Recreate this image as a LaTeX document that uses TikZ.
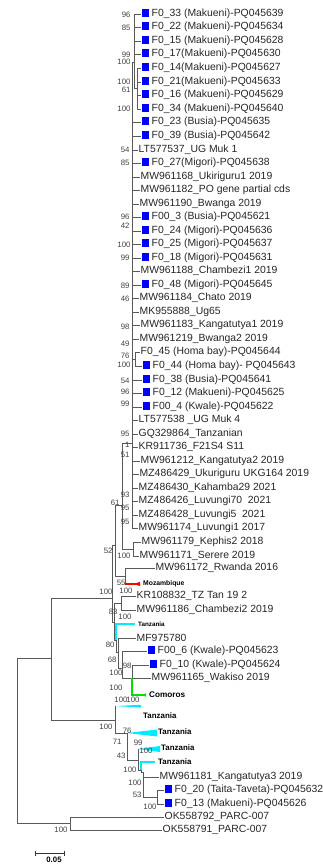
\documentclass[tikz,border=0pt]{standalone}
\usepackage{fontspec}
\setmainfont{Liberation Sans}
\usepackage{xcolor}
\definecolor{sqblue}{RGB}{0,0,255}
\definecolor{tzcyan}{RGB}{0,235,255}
\definecolor{cmgreen}{RGB}{0,225,0}
\definecolor{mzred}{RGB}{255,0,0}
\newcommand{\bsq}{\textcolor{sqblue}{\rule[-0.6pt]{7.5pt}{8pt}}\hspace{2.5pt}}

\begin{document}
\begin{tikzpicture}[x=1pt, y=-1pt,
  br/.style={draw=black!65, line width=0.9pt},
  leaf/.style={anchor=west, inner sep=0.5pt, text=black!85, font=\fontsize{10.4}{12}\selectfont},
  bs/.style={anchor=east, inner sep=0.3pt, text=black!75, font=\fontsize{7.8}{9}\selectfont},
  clade/.style={anchor=west, inner xsep=3pt, inner ysep=0.5pt, font=\bfseries\fontsize{#1}{10}\selectfont},
  clade/.default=7.9,
  cyb/.style={draw=tzcyan, line width=1.4pt},
  cyw/.style={fill=tzcyan},
  mzb/.style={draw=mzred, line width=1.2pt},
  grb/.style={draw=cmgreen, line width=1.2pt}]
  \useasboundingbox (0,0) rectangle (322,864);
  % Internal nodes
  \coordinate (root)  at (17,740);
  \coordinate (ing)   at (51,658);
  \coordinate (og)    at (70,823);
  \coordinate (nA)    at (112,598);
  \coordinate (n52)   at (115,545);
  \coordinate (n61)   at (122,505);
  \coordinate (spine) at (132,443);
  \coordinate (mk)    at (134,62);
  \coordinate (mkb)   at (137,88);
  \coordinate (hb)    at (135,359);
  \coordinate (ks)    at (133,549);
  \coordinate (n55)   at (125,576);
  \coordinate (n83)   at (114,622);
  \coordinate (krp)   at (121,603);
  \coordinate (n80)   at (116,640);
  \coordinate (n68)   at (118,652);
  \coordinate (nkw)   at (122,668);
  \coordinate (n98)   at (132,678);
  \coordinate (nT)    at (115,720);
  \coordinate (n76)   at (127,733);
  \coordinate (n99)   at (138,760);
  \coordinate (ntz)   at (141,770);
  \coordinate (nka)   at (143,772);
  \coordinate (n53)   at (157,797);
  \foreach \a/\b in {root/ing, root/og, ing/nA, ing/nT, nA/n52, nA/n83, n52/n61, n52/n55,
                     n61/spine, n61/ks, spine/mk, mk/mkb, spine/hb, n83/krp, n83/n80,
                     n80/n68, n68/nkw, nkw/n98, nT/n76, n76/n99, n99/ntz, ntz/nka, nka/n53}
    \draw[br] (\a) |- (\b);
  % Upper clade leaves
  \foreach \y/\tx/\p/\t [count=\i] in {
    14/141/mk/{\bsq F0\_33 (Makueni)-PQ045639},
    27/141/mk/{\bsq F0\_22 (Makueni)-PQ045634},
    41/141/mk/{\bsq F0\_15 (Makueni)-PQ045628},
    54/141/mk/{\bsq F0\_17(Makueni)-PQ045630},
    68/141/mkb/{\bsq F0\_14(Makueni)-PQ045627},
    82/141/mkb/{\bsq F0\_21(Makueni)-PQ045633},
    95/141/mkb/{\bsq F0\_16 (Makueni)-PQ045629},
    109/141/mkb/{\bsq F0\_34 (Makueni)-PQ045640},
    122/141/spine/{\bsq F0\_23 (Busia)-PQ045635},
    136/141/spine/{\bsq F0\_39 (Busia)-PQ045642},
    150/138/spine/{LT577537\_UG Muk 1},
    163/141/spine/{\bsq F0\_27(Migori)-PQ045638},
    177/140/spine/{MW961168\_Ukiriguru1 2019},
    190/140/spine/{MW961182\_PO gene partial cds},
    204/139/spine/{MW961190\_Bwanga 2019},
    217/141/spine/{\bsq F00\_3 (Busia)-PQ045621},
    231/141/spine/{\bsq F0\_24 (Migori)-PQ045636},
    244/141/spine/{\bsq F0\_25 (Migori)-PQ045637},
    258/141/spine/{\bsq F0\_18 (Migori)-PQ045631},
    271/140/spine/{MW961188\_Chambezi1 2019},
    285/141/spine/{\bsq F0\_48 (Migori)-PQ045645},
    298/139/spine/{MW961184\_Chato 2019},
    312/139/spine/{MK955888\_Ug65},
    325/140/spine/{MW961183\_Kangatutya1 2019},
    339/139/spine/{MW961219\_Bwanga2 2019},
    352/140/hb/{F0\_45 (Homa bay)-PQ045644},
    366/142/hb/{\bsq F0\_44 (Homa bay)- PQ045643},
    380/142/spine/{\bsq F0\_38 (Busia)-PQ045641},
    393/142/spine/{\bsq F0\_12 (Makueni)-PQ045625},
    407/142/spine/{\bsq F00\_4 (Kwale)-PQ045622},
    420/138/spine/{LT577538 \_UG Muk 4},
    434/138/spine/{GQ329864\_Tanzanian},
    447/138/spine/{KR911736\_F21S4 S11},
    461/140/spine/{MW961212\_Kangatutya2 2019},
    474/139/spine/{MZ486429\_Ukuriguru UKG164 2019},
    488/138/spine/{MZ486430\_Kahamba29 2021},
    501/138/spine/{MZ486426\_Luvungi70~ 2021},
    515/138/spine/{MZ486428\_Luvungi5~ 2021},
    528/138/spine/{MW961174\_Luvungi1 2017}}{
    \node[leaf] (s\i) at (\tx,\y) {\t};
    \draw[br] (\p) |- (s\i.west);
  }
  % Lower leaves
  \node[leaf] (kep)  at (141,542) {MW961179\_Kephis2 2018};
  \node[leaf] (ser)  at (139,556) {MW961171\_Serere 2019};
  \node[leaf] (rwa)  at (155,568) {MW961172\_Rwanda 2016};
  \node[leaf] (krt)  at (136,596) {KR108832\_TZ Tan 19 2};
  \node[leaf] (chb)  at (136,610) {MW961186\_Chambezi2 2019};
  \node[leaf] (mf)   at (136,638) {MF975780};
  \node[leaf] (kw6)  at (147,651) {\bsq F00\_6 (Kwale)-PQ045623};
  \node[leaf] (kw10) at (149,665) {\bsq F0\_10 (Kwale)-PQ045624};
  \node[leaf] (wak)  at (151,678) {MW961165\_Wakiso 2019};
  \node[leaf] (kg3)  at (159,777) {MW961181\_Kangatutya3 2019};
  \node[leaf] (tt20) at (164,790) {\bsq F0\_20 (Taita-Taveta)-PQ045632};
  \node[leaf] (mk13) at (164,804) {\bsq F0\_13 (Makueni)-PQ045626};
  \node[leaf] (ok92) at (164,817) {OK558792\_PARC-007};
  \node[leaf] (ok91) at (162,830) {OK558791\_PARC-007};
  \foreach \p/\l in {ks/kep, ks/ser, n55/rwa, krp/krt, krp/chb, n68/mf, nkw/kw6, n98/kw10,
                     n98/wak, nka/kg3, n53/tt20, n53/mk13, og/ok92, og/ok91}
    \draw[br] (\p) |- (\l.west);
  % Collapsed clades
  \coordinate (mzr) at (125,584);
  \node[clade=6.8] (moz) at (140,584) {Mozambique};
  \draw[br] (n55) -- (mzr);
  \draw[mzb] (mzr) -- (moz.west);
  \fill[mzred] (134,584) -- (140,581.8) -- (140,586.2) -- cycle;
  \node[clade=6.3] (tza) at (135,624) {Tanzania};
  \draw[cyb] (n80) |- (tza.west);
  \node[clade=8.2] (com) at (146,695) {Comoros};
  \draw[grb] (n98) |- (com.west);
  \fill[cmgreen] (141,695) -- (146,693.3) -- (146,696.7) -- cycle;
  \coordinate (tz1) at (115,706);
  \draw[br] (nT) -- (tz1);
  \fill[cyw] (tz1) -- (141,704.8) -- (141,707.6) -- cycle;
  \node[clade] (tzb) at (140,716) {Tanzania};
  \fill[cyw] (n76) -- ++(30,-3.5) -- ++(0,7) -- cycle;
  \node[clade] (tzc) at (155,732) {Tanzania};
  \coordinate (tz3) at (138,749);
  \draw[br] (n99) -- (tz3);
  \fill[cyw] (tz3) -- ++(22,-3) -- ++(0,6) -- cycle;
  \node[clade] (tzd) at (158,748) {Tanzania};
  \node[clade] (tze) at (155,762) {Tanzania};
  \draw[cyb] (ntz) |- (tze.west);
  % Bootstrap values
  \foreach \x/\y/\v [count=\k] in {131/15/96, 131/28/85, 131/55/99, 131/62/100, 131/82/100,
      131/90/61, 131/109/100, 130/150/54, 130/163/85, 130/217/96, 130/226/42, 131/245/100,
      130/258/99, 130/286/89, 130/299/46, 130/327/98, 130/344/49, 130/356/76, 131/365/100,
      130/381/54, 130/392/96, 130/404/99, 130/434/95, 130/445/1, 130/455/51, 130/495/93,
      130/508/95, 130/522/95, 131/556/100, 120/503/61, 113/551/52, 126/583/55, 113/592/100,
      133/591/100, 118/612/83, 132/617/100, 115/645/80, 117/660/68, 132/666/98, 123/673/100,
      123/688/100, 128/700/100, 140/700/100, 113/727/100, 132/731/76, 122/742/71, 126/756/43,
      143/743/99, 153/751/100, 137/770/100, 142/783/100, 142/795/53, 157/807/100, 68/830/100}
    \node[bs] (b\k) at (\x,\y) {\v};
  % Scale bar
  \coordinate (sbl) at (35,853);
  \coordinate (sbr) at (64,853);
  \draw[black!80, line width=0.9pt] (sbl) -- (sbr)
    (sbl) ++(0,-2.5) -- ++(0,5) (sbr) ++(0,-2.5) -- ++(0,5);
  \node[font=\bfseries\fontsize{7.8}{9}\selectfont] (sbt) at (54,860) {0.05};
\end{tikzpicture}
\end{document}
